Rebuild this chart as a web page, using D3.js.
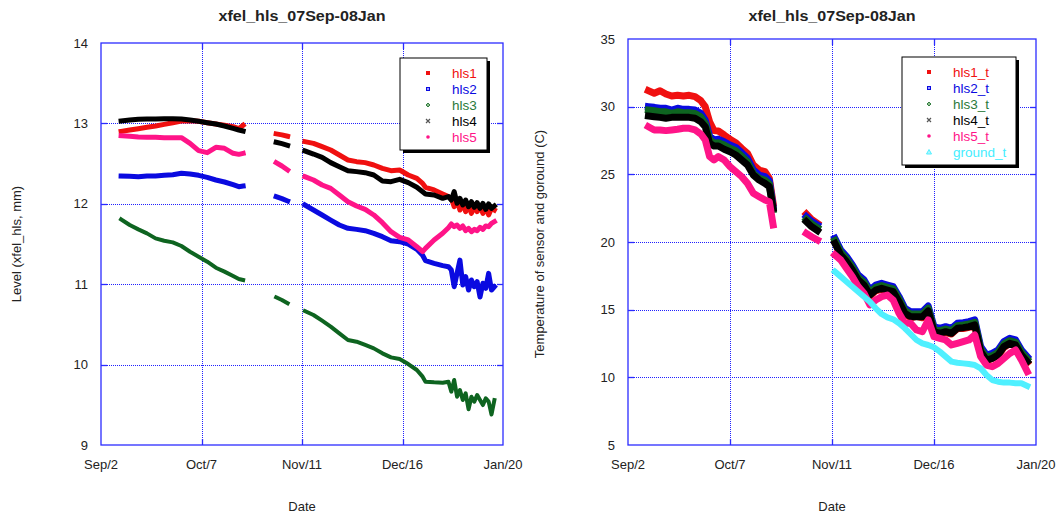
<!DOCTYPE html>
<html><head><meta charset="utf-8">
<script src="https://cdn.jsdelivr.net/npm/d3@7"></script>
<style>body{margin:0;background:#fff} text{font-family:Arial,"Liberation Sans",sans-serif}</style>
</head><body>
<svg id="c" width="1058" height="516"></svg>
<script>
// ---------- DATA ----------
const titleText = "xfel_hls_07Sep-08Jan";
const xTickDays = [0, 35, 70, 105, 140];          // days since Sep 2
const xTickLabels = ["Sep/2", "Oct/7", "Nov/11", "Dec/16", "Jan/20"];
const levelTicks = [9, 10, 11, 12, 13, 14];
const tempTicks = [5, 10, 15, 20, 25, 30, 35];

// Level chart: day offsets (null rows are data gaps)
const dayLevel = [7,10,13,16,19,22,25,28,31,34,37,40,43,46,48,49.5, 55, 61,63,65, 68,
  71,74,77,80,83,86,89,92,95,98,101,104,107,110,112,113,116,119,121,
  122,123,124,125,126,127,128,129,130,131,132,133,134,135,136,137];
const hls1 = [12.901,12.918,12.934,12.951,12.968,12.988,13.009,13.030,13.034,13.026,13.009,12.992,12.976,12.959,12.934,12.976, null,
  12.870,12.857,12.840, null,
  12.773,12.752,12.711,12.669,12.607,12.545,12.524,12.512,12.483,12.441,12.412,12.420,12.358,12.317,12.254,12.205,12.172,12.122,12.089,
  12.068,11.964,12.047,11.923,12.006,11.902,11.985,11.881,11.964,11.902,11.973,11.881,11.956,11.861,11.944,11.923];
const hls2 = [12.346,12.342,12.337,12.346,12.346,12.354,12.362,12.379,12.371,12.354,12.329,12.296,12.271,12.238,12.213,12.221, null,
  12.089,12.064,12.035, null,
  11.985,11.923,11.861,11.798,11.736,11.695,11.682,11.666,11.633,11.591,11.541,11.529,11.500,11.434,11.360,11.293,11.260,11.231,11.218,
  11.177,10.969,11.135,11.300,10.990,11.094,10.927,11.052,10.969,11.031,10.840,11.011,10.949,11.135,10.927,10.969];
const hls3 = [11.807,11.736,11.682,11.632,11.570,11.541,11.520,11.475,11.404,11.342,11.280,11.205,11.156,11.102,11.064,11.052, null,
  10.836,10.803,10.762, null,
  10.666,10.617,10.546,10.472,10.389,10.306,10.285,10.244,10.202,10.140,10.090,10.069,10.007,9.933,9.850,9.787,9.779,9.775,9.787,
  9.663,9.808,9.601,9.684,9.559,9.642,9.445,9.601,9.539,9.622,9.559,9.497,9.580,9.539,9.380,9.559];
const hls4 = [13.030,13.042,13.051,13.055,13.055,13.059,13.059,13.055,13.042,13.026,13.009,12.992,12.968,12.939,12.918,12.905, null,
  12.765,12.748,12.727, null,
  12.657,12.619,12.578,12.512,12.462,12.412,12.400,12.387,12.358,12.284,12.275,12.304,12.263,12.205,12.150,12.122,12.109,12.068,12.089,
  12.047,12.151,12.006,12.068,11.985,12.047,11.964,12.026,11.956,12.014,11.944,12.006,11.931,11.998,11.944,11.973];
const hls5 = [12.847,12.839,12.831,12.827,12.827,12.823,12.823,12.823,12.752,12.661,12.636,12.702,12.690,12.628,12.615,12.628, null,
  12.512,12.470,12.420, null,
  12.337,12.296,12.234,12.192,12.109,12.026,11.973,11.931,11.861,11.765,11.653,11.583,11.550,11.467,11.405,11.446,11.550,11.633,11.703,
  11.749,11.716,11.736,11.695,11.724,11.666,11.695,11.653,11.682,11.666,11.707,11.682,11.724,11.716,11.757,11.778];

// Temperature chart
const dayTemp = [7,9,11,13,15,17,19,21,23,25,26.5,28,29.5,31,33,35,37,39,41,43,45,47,48.5,49.8, 55, 61.2,63,65, 68,
  71,73,75,77,79,81,83,85,87,89,91,93,95,97,99,101,103,105,107,109,111,113,115,117,119,121,123,125,127,129,131,133,135,137];
const hls1_t = [31.18,30.99,31.18,30.94,30.79,30.84,30.79,30.84,30.74,30.44,30.00,28.89,28.23,28.20,27.91,27.59,27.34,26.92,26.55,25.69,25.32,25.20,24.70,22.86, null,
  22.07,21.67,21.38, null,
  20.10,19.10,18.50,17.90,17.10,16.80,16.00,16.40,16.50,16.40,16.30,15.50,14.70,14.40,14.50,14.40,14.90,13.30,13.20,13.30,13.20,13.60,13.60,13.70,13.80,11.90,11.20,11.40,11.60,12.20,12.50,12.30,11.60,11.10];
const hls2_t = [30.00,29.95,29.88,29.88,29.75,29.88,29.80,29.80,29.75,29.51,29.01,27.83,27.54,27.59,27.41,27.17,26.99,26.60,26.18,25.32,24.95,24.83,24.53,22.61, null,
  21.87,21.53,21.26, null,
  20.27,19.41,18.92,18.30,17.56,17.19,16.45,16.82,16.95,16.82,16.70,15.96,15.10,14.85,14.85,14.85,15.27,13.74,13.62,13.74,13.62,13.99,14.04,14.11,14.24,12.27,11.65,11.77,12.02,12.64,12.88,12.76,12.02,11.53];
const hls3_t = [29.75,29.70,29.62,29.62,29.50,29.62,29.55,29.55,29.50,29.25,28.76,27.58,27.29,27.34,27.16,26.92,26.74,26.35,25.93,25.07,24.70,24.58,24.28,22.40, null,
  21.67,21.33,21.06, null,
  20.10,19.24,18.75,18.13,17.39,17.02,16.28,16.65,16.78,16.65,16.53,15.79,14.93,14.68,14.68,14.68,15.10,13.57,13.45,13.57,13.45,13.82,13.87,13.94,14.07,12.10,11.48,11.60,11.85,12.47,12.71,12.59,11.85,11.36];
const hls4_t = [29.31,29.26,29.21,29.14,29.21,29.21,29.21,29.21,29.14,28.89,28.52,27.29,27.09,27.09,26.85,26.67,26.43,26.06,25.69,24.95,24.58,24.33,24.09,22.49, null,
  21.50,21.13,20.84, null,
  19.90,19.04,18.55,17.93,17.19,16.82,16.08,16.45,16.58,16.45,16.33,15.59,14.73,14.48,14.48,14.48,14.90,13.37,13.25,13.37,13.25,13.62,13.67,13.74,13.87,11.90,11.28,11.40,11.65,12.27,12.51,12.39,11.65,11.16];
const hls5_t = [28.52,28.28,28.28,28.23,28.28,28.33,28.40,28.40,28.28,27.98,27.54,26.31,26.06,26.31,26.06,25.57,25.20,24.83,24.33,23.60,23.35,23.10,22.98,21.26, null,
  20.64,20.39,20.15, null,
  19.04,18.67,18.05,17.44,16.70,16.21,15.35,15.71,15.96,16.08,15.71,14.73,13.99,13.99,13.50,13.37,14.24,13.00,12.88,12.76,12.39,12.51,12.64,12.76,13.13,11.53,10.91,10.79,11.03,11.40,11.77,12.02,11.28,10.42];
const ground_t = [null,null,null,null,null,null,null,null,null,null,null,null,null,null,null,null,null,null,null,null,null,null,null,null, null,
  null,null,null, null,
  17.81,17.44,17.07,16.70,16.33,15.96,15.59,15.10,14.68,14.43,14.29,13.99,13.62,13.20,12.76,12.51,12.39,12.22,11.90,11.53,11.16,11.08,11.03,10.98,10.91,10.67,10.17,9.80,9.68,9.61,9.61,9.56,9.56,9.36];

// ---------- DRAW ----------
const svg = d3.select("#c");
svg.append("rect").attr("width",1058).attr("height",516).attr("fill","#fff");
const FRAME = "#2b2bff", GRID = "#2020ff";

function markerPath(g, type, x, y, color) {
  if (type === "square") g.append("rect").attr("x",x-2).attr("y",y-2).attr("width",4).attr("height",4).attr("fill",color);
  else if (type === "hsquare") g.append("rect").attr("x",x-1.5).attr("y",y-1.5).attr("width",3).attr("height",3).attr("fill","#9999ff").attr("stroke",color).attr("stroke-width",1);
  else if (type === "diamond") g.append("path").attr("d",`M${x},${y-2}L${x+2},${y}L${x},${y+2}L${x-2},${y}Z`).attr("fill","#8fbf8f").attr("stroke",color).attr("stroke-width",0.8);
  else if (type === "cross") g.append("path").attr("d",`M${x-2},${y-2}L${x+2},${y+2}M${x+2},${y-2}L${x-2},${y+2}`).attr("stroke",color).attr("stroke-width",1.2);
  else if (type === "dot") g.append("circle").attr("cx",x).attr("cy",y).attr("r",1.8).attr("fill",color);
  else if (type === "tri") g.append("path").attr("d",`M${x},${y-2.5}L${x+2.5},${y+2}L${x-2.5},${y+2}Z`).attr("fill","#b0f6ff").attr("stroke",color).attr("stroke-width",1);
}

function panel(cfg) {
  const x = d3.scaleLinear().domain([0,140]).range([cfg.x0, cfg.x1]);
  const y = d3.scaleLinear().domain(cfg.yDomain).range([cfg.y1, cfg.y0]);
  const px = v => Math.round(v) + 0.5;
  const g = svg.append("g");
  // grid
  g.selectAll(".gx").data(xTickDays.slice(1,-1)).enter().append("line")
    .attr("x1",d=>px(x(d))).attr("x2",d=>px(x(d))).attr("y1",cfg.y0).attr("y2",cfg.y1)
    .attr("stroke",GRID).attr("stroke-width",1).attr("stroke-dasharray","1,1").attr("shape-rendering","crispEdges");
  g.selectAll(".gy").data(cfg.yTicks.slice(1,-1)).enter().append("line")
    .attr("y1",d=>px(y(d))).attr("y2",d=>px(y(d))).attr("x1",cfg.x0).attr("x2",cfg.x1)
    .attr("stroke",GRID).attr("stroke-width",1).attr("stroke-dasharray","1,1").attr("shape-rendering","crispEdges");
  // series
  cfg.series.forEach(s => {
    const pts = cfg.days.map((d,i)=>({d, v:s.values[i]}));
    const line = d3.line().defined(p=>p.v!=null).x(p=>x(p.d)).y(p=>y(p.v));
    g.append("path").attr("d",line(pts)).attr("fill","none").attr("stroke",s.color)
      .attr("stroke-width",s.width).attr("stroke-linejoin","round").attr("stroke-linecap","square");
  });
  // frame
  g.append("rect").attr("x",cfg.x0).attr("y",cfg.y0).attr("width",cfg.x1-cfg.x0).attr("height",cfg.y1-cfg.y0)
    .attr("fill","none").attr("stroke",FRAME).attr("stroke-width",1.3);
  // inner ticks
  cfg.yTicks.slice(1,-1).forEach(t=>{
    g.append("line").attr("x1",cfg.x0).attr("x2",cfg.x0+6).attr("y1",px(y(t))).attr("y2",px(y(t))).attr("stroke",FRAME).attr("stroke-width",1.3);
    g.append("line").attr("x1",cfg.x1-6).attr("x2",cfg.x1).attr("y1",px(y(t))).attr("y2",px(y(t))).attr("stroke",FRAME).attr("stroke-width",1.3);
  });
  xTickDays.slice(1,-1).forEach(t=>{
    g.append("line").attr("x1",px(x(t))).attr("x2",px(x(t))).attr("y1",cfg.y1-6).attr("y2",cfg.y1).attr("stroke",FRAME).attr("stroke-width",1.3);
    g.append("line").attr("x1",px(x(t))).attr("x2",px(x(t))).attr("y1",cfg.y0).attr("y2",cfg.y0+6).attr("stroke",FRAME).attr("stroke-width",1.3);
  });
  // tick labels
  g.selectAll(".yl").data(cfg.yTicks).enter().append("text")
    .attr("x",cfg.x0-13).attr("y",d=>y(d)+4.5).attr("text-anchor","end")
    .attr("font-size","13px").attr("fill","#222").text(d=>d);
  g.selectAll(".xl").data(xTickDays).enter().append("text")
    .attr("x",d=>x(d)).attr("y",cfg.y1+24).attr("text-anchor","middle")
    .attr("font-size","13px").attr("fill","#222").text((d,i)=>xTickLabels[i]);
  // titles
  g.append("text").attr("x",(cfg.x0+cfg.x1)/2).attr("y",21).attr("text-anchor","middle")
    .attr("font-size","14px").attr("font-weight","bold").attr("fill","#222")
    .attr("textLength",167).attr("lengthAdjust","spacingAndGlyphs").text(titleText);
  g.append("text").attr("x",(cfg.x0+cfg.x1)/2).attr("y",511).attr("text-anchor","middle")
    .attr("font-size","13px").attr("fill","#222").text("Date");
  g.append("text").attr("transform",`translate(${cfg.ylabX},244) rotate(-90)`).attr("text-anchor","middle")
    .attr("font-size","13px").attr("fill","#222").text(cfg.ylabel);
  // legend
  const L = cfg.legend;
  const h = 16*cfg.series.length + 12;
  g.append("rect").attr("x",L.x+3).attr("y",L.y+3).attr("width",L.w).attr("height",h).attr("fill","#000");
  g.append("rect").attr("x",L.x).attr("y",L.y).attr("width",L.w).attr("height",h).attr("fill","#fff").attr("stroke","#000").attr("stroke-width",1);
  cfg.series.forEach((s,i)=>{
    const cy = L.y + 15 + 16*i;
    markerPath(g, s.marker, L.mx, cy, s.mcolor || s.color);
    g.append("text").attr("x",L.tx).attr("y",cy+5).attr("font-size","13.5px").attr("fill",s.tcolor || s.color).text(s.name);
  });
}

panel({
  x0:101, x1:503, y0:43, y1:445, yDomain:[9,14], yTicks:levelTicks, days:dayLevel,
  ylabel:"Level (xfel_hls, mm)", ylabX:21,
  legend:{x:400, y:58, w:87, mx:428, tx:452},
  series:[
    {name:"hls1", values:hls1, color:"#f01010", width:5, marker:"square"},
    {name:"hls2", values:hls2, color:"#0a0ae0", width:5, marker:"hsquare"},
    {name:"hls3", values:hls3, color:"#0e6420", width:4, marker:"diamond", tcolor:"#2a7a3a"},
    {name:"hls4", values:hls4, color:"#000000", width:5, marker:"cross", mcolor:"#555"},
    {name:"hls5", values:hls5, color:"#ff1488", width:5, marker:"dot"}
  ]
});
panel({
  x0:628, x1:1036, y0:39, y1:445, yDomain:[5,35], yTicks:tempTicks, days:dayTemp,
  ylabel:"Temperature of sensor and goround (C)", ylabX:544,
  legend:{x:902, y:57, w:114, mx:929, tx:953},
  series:[
    {name:"hls1_t", values:hls1_t, color:"#f01010", width:7, marker:"square"},
    {name:"hls2_t", values:hls2_t, color:"#0a0ae0", width:7, marker:"hsquare"},
    {name:"hls3_t", values:hls3_t, color:"#0e6420", width:7, marker:"diamond", tcolor:"#2a7a3a"},
    {name:"hls4_t", values:hls4_t, color:"#000000", width:7, marker:"cross", mcolor:"#555"},
    {name:"hls5_t", values:hls5_t, color:"#ff1488", width:7, marker:"dot"},
    {name:"ground_t", values:ground_t, color:"#4ff0ff", width:6, marker:"tri", tcolor:"#44eeff"}
  ]
});
</script>
</body></html>
